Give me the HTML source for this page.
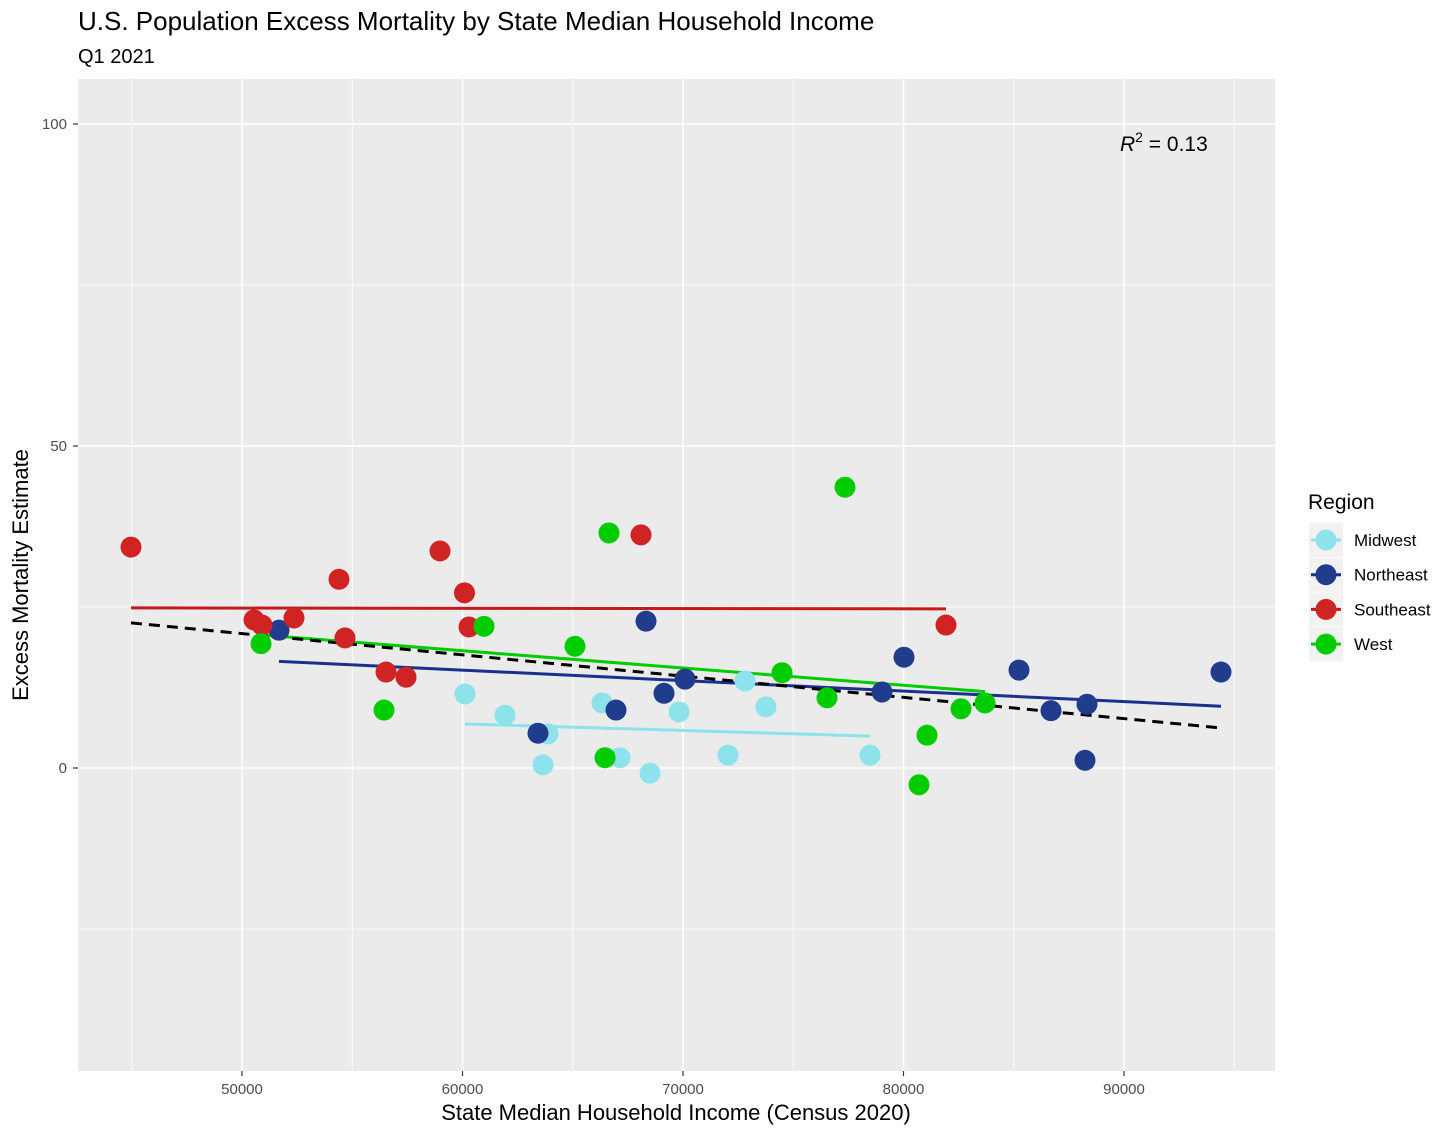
<!DOCTYPE html>
<html><head><meta charset="utf-8"><style>
body{margin:0;background:#fff;font-family:"Liberation Sans",Arial,sans-serif}
svg text{font-family:"Liberation Sans",Arial,sans-serif}
</style></head><body>
<svg id="chart" width="1456" height="1136" xmlns="http://www.w3.org/2000/svg">
<rect width="1456" height="1136" fill="#fff"/>
<text x="78" y="30" font-size="26" fill="#000">U.S. Population Excess Mortality by State Median Household Income</text>
<text x="78" y="63" font-size="20" fill="#000">Q1 2021</text>
<rect x="78" y="79" width="1197" height="992" fill="#ebebeb"/>
<g id="grid"></g>
<g id="lines"></g>
<g id="points"></g>
<g id="axes"></g>
<text x="1120" y="151" font-size="21" fill="#000"><tspan font-style="italic">R</tspan><tspan dy="-9" font-size="14">2</tspan><tspan dy="9"> = 0.13</tspan></text>
<text x="676" y="1120" font-size="22" text-anchor="middle">State Median Household Income (Census 2020)</text>
<text transform="translate(28,575) rotate(-90)" font-size="22" text-anchor="middle">Excess Mortality Estimate</text>
<g id="legend">
<text x="1308" y="509" font-size="21">Region</text>
</g>
</svg>
<script>
const regions=["Midwest","Northeast","Southeast","West"];
const pointColors=["#8ee2ec","#203c8c","#d02424","#00cc00"];
const lineColors=["#8ee2ec","#1a2f8f","#c41a1a","#00cc00"];
const midwestX=[60113,61927,63651,63878,66327,67143,68503,69819,72041,72812,73764,78481];
const midwestY=[11.5,8.2,0.5,5.3,10.1,1.6,-0.8,8.7,2.0,13.5,9.5,2.0];
const northeastX=[51678,63424,66961,68322,69138,70091,79025,80023,85238,86689,88322,88231,94399];
const northeastY=[21.4,5.4,9.0,22.8,11.6,13.8,11.8,17.2,15.2,8.9,9.9,1.2,14.9];
const southeastX=[44966,50544,50907,52358,54399,54671,56531,57438,58980,60091,60295,68095,81927];
const southeastY=[34.3,23.0,22.2,23.3,29.3,20.2,14.9,14.1,33.7,27.2,21.9,36.2,22.2];
const westX=[50862,56440,60975,65102,66463,66644,74490,76531,77347,80703,81066,82608,83696];
const westY=[19.3,9.0,22.0,18.9,1.6,36.5,14.8,10.9,43.6,-2.6,5.1,9.2,10.1];
const xTicks=[50000,60000,70000,80000,90000];
const xMinor=[45000,55000,65000,75000,85000,95000];
const yTicks=[0,50,100];
const yMinor=[-25,25,75];
const X=v=>242+(v-50000)*0.02205;
const Y=v=>768-v*6.44;
const NS="http://www.w3.org/2000/svg";
function mk(tag,parent,attrs){const e=document.createElementNS(NS,tag);for(const k in attrs)e.setAttribute(k,attrs[k]);document.getElementById(parent).appendChild(e);return e;}
yMinor.forEach(v=>{const e=mk('line','grid',{x1:78,x2:1275,y1:Y(v),y2:Y(v),stroke:'#fff','stroke-width':0.8});});
xMinor.forEach(v=>{const e=mk('line','grid',{x1:X(v),x2:X(v),y1:79,y2:1071,stroke:'#fff','stroke-width':0.8});});
yTicks.forEach(v=>{const e=mk('line','grid',{x1:78,x2:1275,y1:Y(v),y2:Y(v),stroke:'#fff','stroke-width':1.6});
const t=mk('line','axes',{x1:73,x2:78,y1:Y(v),y2:Y(v),stroke:'#333','stroke-width':1.2});
const l=mk('text','axes',{x:67,y:Y(v)+5,'text-anchor':'end','font-size':15,fill:'#4d4d4d'});l.textContent=v;});
xTicks.forEach(v=>{const e=mk('line','grid',{x1:X(v),x2:X(v),y1:79,y2:1071,stroke:'#fff','stroke-width':1.6});
const t=mk('line','axes',{x1:X(v),x2:X(v),y1:1071,y2:1076,stroke:'#333','stroke-width':1.2});
const l=mk('text','axes',{x:X(v),y:1094,'text-anchor':'middle','font-size':15,fill:'#4d4d4d'});l.textContent=v;});
function fit(xs,ys){const n=xs.length,mx=xs.reduce((a,b)=>a+b)/n,my=ys.reduce((a,b)=>a+b)/n;let sxy=0,sxx=0;for(let i=0;i<n;i++){sxy+=(xs[i]-mx)*(ys[i]-my);sxx+=(xs[i]-mx)**2;}const b=sxy/sxx;return [my-b*mx,b];}
const allX=[midwestX,northeastX,southeastX,westX],allY=[midwestY,northeastY,southeastY,westY];
allX.forEach((xs,i)=>{const [a,b]=fit(xs,allY[i]);const x0=Math.min(...xs),x1=Math.max(...xs);
const e=mk('line','lines',{x1:X(x0),x2:X(x1),y1:Y(a+b*x0),y2:Y(a+b*x1),stroke:lineColors[i],'stroke-width':3});});
const fx=[].concat(...allX),fy=[].concat(...allY);const [A,B]=fit(fx,fy);const fx0=Math.min(...fx),fx1=Math.max(...fx);
const d=mk('line','lines',{x1:X(fx0),x2:X(fx1),y1:Y(A+B*fx0),y2:Y(A+B*fx1),stroke:'#000','stroke-width':3,'stroke-dasharray':'11,7'});

allX.forEach((xs,i)=>xs.forEach((x,j)=>{const c=mk('circle','points',{cx:X(x),cy:Y(allY[i][j]),r:10.5,fill:pointColors[i]});}));
regions.forEach((r,i)=>{const y=540+i*34.7;
const bg=mk('rect','legend',{x:1309,y:y-17,width:34,height:34,fill:'#f2f2f2'});
const l=mk('line','legend',{x1:1311,x2:1341,y1:y,y2:y,stroke:lineColors[i],'stroke-width':3});
const c=mk('circle','legend',{cx:1326,cy:y,r:10.5,fill:pointColors[i]});
const t=mk('text','legend',{x:1354,y:y+6,'font-size':17});t.textContent=r;});
</script>
</body></html>
